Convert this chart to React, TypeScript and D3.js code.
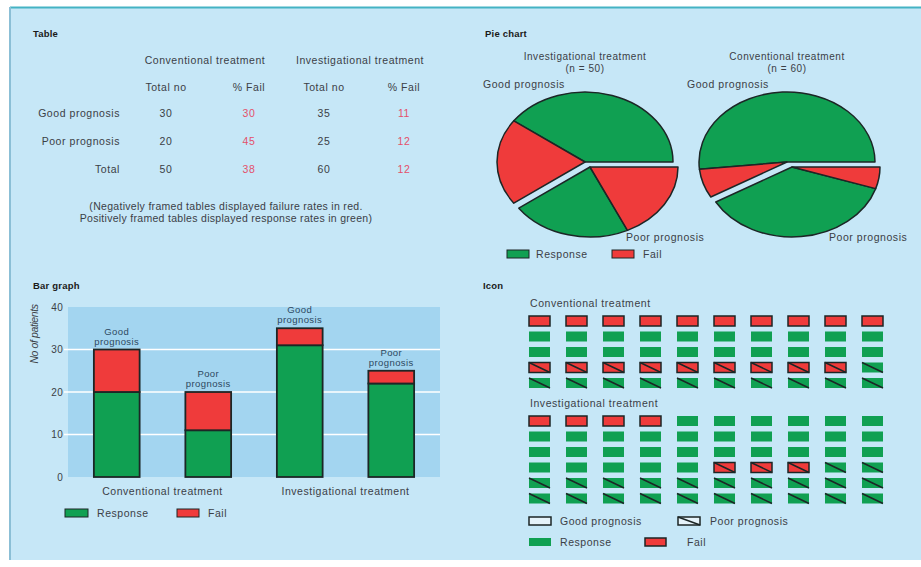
import * as d3 from 'd3'

// table
const tableHeads = ['Conventional treatment', 'Investigational treatment']
const tableSubHeads = ['Total no', '% Fail', 'Total no', '% Fail']
const tableRows = ['Good prognosis', 'Poor prognosis', 'Total']
const convTotal = [30, 20, 50]
const convFail = [30, 45, 38]
const invTotal = [35, 25, 60]
const invFail = [11, 12, 12]

// bar graph
const barKeys = ['conv-good', 'conv-poor', 'inv-good', 'inv-poor']
const barLabels = [['Good', 'prognosis'], ['Poor', 'prognosis'], ['Good', 'prognosis'], ['Poor', 'prognosis']]
const barResponse = [20, 11, 31, 22]
const barFail = [10, 9, 4, 3]
const barGroups = ['Conventional treatment', 'Investigational treatment']
const barTicks = [0, 10, 20, 30, 40]

// pie chart (good resp, good fail, poor resp, poor fail)
const pieTitles = ['Investigational treatment', 'Conventional treatment']
const pieN = [50, 60]
const pieValues = [[20, 10, 11, 9], [31, 4, 22, 3]]

// icons (good fail, good resp, poor fail, poor resp)
const iconTitles = ['Conventional treatment', 'Investigational treatment']
const iconCounts = [[10, 20, 9, 11], [4, 31, 3, 22]]

const GREEN = '#10a052'
const RED = '#ef3b3b'
const STROKE = '#1c2626'
const INK = '#3b4046'
const FAILINK = '#e4506a'
const FONT = '"Liberation Sans", Arial, Helvetica, sans-serif'
const LS = 0.55

function TableBlock() {
  const colX = [166, 249, 324, 404]
  const rowY = [117, 145, 173]
  const cols = [convTotal, convFail, invTotal, invFail]
  return (
    <g fontSize={10.5} fill={INK} letterSpacing={LS}>
      <text x={33} y={37} fontWeight="bold" fontSize={9.5} letterSpacing={0.2} fill="#1a1a1a">Table</text>
      {tableHeads.map((h, i) => (
        <text key={h} x={i === 0 ? 205 : 360} y={64} textAnchor="middle">{h}</text>
      ))}
      {tableSubHeads.map((h, i) => (
        <text key={i} x={colX[i]} y={91} textAnchor="middle">{h}</text>
      ))}
      {tableRows.map((r, j) => (
        <text key={r} x={120} y={rowY[j]} textAnchor="end">{r}</text>
      ))}
      {cols.map((c, i) => c.map((v, j) => (
        <text key={i + '-' + j} x={colX[i]} y={rowY[j]} textAnchor="middle" fill={i % 2 ? FAILINK : INK}>{v}</text>
      )))}
      <text x={226} y={210} textAnchor="middle" letterSpacing={0.3}>(Negatively framed tables displayed failure rates in red.</text>
      <text x={226} y={222} textAnchor="middle" letterSpacing={0.3}>Positively framed tables displayed response rates in green)</text>
    </g>
  )
}

function PieBlock() {
  const RX = 88
  const RY = 70
  const centers = [[585, 162], [787, 162]]
  const pie = d3.pie<number>().sort(null).value(d => d)
    .startAngle(Math.PI / 2).endAngle(Math.PI / 2 - 2 * Math.PI)
  const arc = d3.arc<d3.PieArcDatum<number>>().innerRadius(0).outerRadius(RY)
  return (
    <g fontSize={10.5} fill={INK} letterSpacing={LS}>
      <text x={485} y={37} fontWeight="bold" fontSize={9.5} letterSpacing={0.2} fill="#1a1a1a">Pie chart</text>
      {pieValues.map((vals, p) => {
        const [cx, cy] = centers[p]
        return (
          <g key={p}>
            <text x={cx} y={60} textAnchor="middle" fontSize={10}>{pieTitles[p]}</text>
            <text x={cx} y={71.5} textAnchor="middle" fontSize={10}>{`(n = ${pieN[p]})`}</text>
            {pie(vals).map((a, i) => {
              const off = i >= 2 ? [5, 5] : [0, 0]
              return (
                <path key={i} d={arc(a) || ''}
                  transform={`translate(${cx + off[0]},${cy + off[1]}) scale(${RX / RY},1)`}
                  fill={i % 2 ? RED : GREEN} stroke={STROKE} strokeWidth={1.5}
                  vectorEffect="non-scaling-stroke" strokeLinejoin="round" />
              )
            })}
          </g>
        )
      })}
      <text x={483} y={88}>Good prognosis</text>
      <text x={687} y={88}>Good prognosis</text>
      <text x={626} y={241}>Poor prognosis</text>
      <text x={829} y={241}>Poor prognosis</text>
      <rect x={507} y={250} width={22} height={8} fill={GREEN} stroke={STROKE} strokeWidth={1} />
      <text x={536} y={258}>Response</text>
      <rect x={612} y={250} width={22} height={8} fill={RED} stroke={STROKE} strokeWidth={1} />
      <text x={643} y={258}>Fail</text>
    </g>
  )
}

function BarBlock() {
  const y = d3.scaleLinear().domain([0, 40]).range([477, 307])
  const x = d3.scaleBand<string>().domain(barKeys).range([71, 437]).paddingInner(0.5).paddingOuter(0.25)
  const bw = x.bandwidth()
  return (
    <g fontSize={10.5} fill={INK} letterSpacing={LS}>
      <text x={33} y={289} fontWeight="bold" fontSize={9.5} letterSpacing={0.2} fill="#1a1a1a">Bar graph</text>
      <rect x={68} y={y(40)} width={372} height={y(0) - y(40)} fill="#a3d5f0" />
      {barTicks.map(t => (
        <g key={t}>
          {t > 0 && t < 40 && (
            <line x1={64} x2={440} y1={y(t)} y2={y(t)} stroke="#ffffff" strokeWidth={1.5} />
          )}
          <text x={63} y={y(t)} dy="0.35em" textAnchor="end" fontSize={10} letterSpacing={0.3}>{t}</text>
        </g>
      ))}
      <text transform="translate(38,334) rotate(-90)" textAnchor="middle" fontStyle="italic"
        fontSize={10.5} letterSpacing={-0.4} fill={INK}>No of patients</text>
      {barKeys.map((k, i) => {
        const x0 = x(k) as number
        const top = y(barResponse[i] + barFail[i])
        return (
          <g key={k}>
            <rect x={x0} y={y(barResponse[i])} width={bw} height={y(0) - y(barResponse[i])}
              fill={GREEN} stroke={STROKE} strokeWidth={1.8} />
            <rect x={x0} y={top} width={bw} height={y(barResponse[i]) - top}
              fill={RED} stroke={STROKE} strokeWidth={1.8} />
            <text x={x0 + bw / 2} y={top - 15} textAnchor="middle" fontSize={9.5} letterSpacing={0.4} fill="#2d4860">{barLabels[i][0]}</text>
            <text x={x0 + bw / 2} y={top - 5} textAnchor="middle" fontSize={9.5} letterSpacing={0.4} fill="#2d4860">{barLabels[i][1]}</text>
          </g>
        )
      })}
      {barGroups.map((g, i) => {
        const a = x(barKeys[i * 2]) as number
        const b = (x(barKeys[i * 2 + 1]) as number) + bw
        return <text key={g} x={(a + b) / 2} y={495} textAnchor="middle">{g}</text>
      })}
      <rect x={65} y={509} width={23} height={8} fill={GREEN} stroke={STROKE} strokeWidth={1} />
      <text x={97} y={517}>Response</text>
      <rect x={177} y={509} width={22} height={8} fill={RED} stroke={STROKE} strokeWidth={1} />
      <text x={208} y={517}>Fail</text>
    </g>
  )
}

function Icon({ x, y, w, h, fail, poor }: { x: number, y: number, w: number, h: number, fail: boolean, poor: boolean }) {
  return (
    <g>
      <rect x={x} y={y} width={w} height={h} fill={fail ? RED : GREEN}
        stroke={fail ? STROKE : 'none'} strokeWidth={1.5} />
      {poor && <line x1={x} y1={y} x2={x + w} y2={y + h} stroke={STROKE} strokeWidth={1.5} />}
    </g>
  )
}

function IconBlock() {
  const W = 21
  const H = 10
  const cx = d3.scaleLinear().domain([0, 9]).range([529, 862])
  const tops = [316, 416]
  const titleY = [307, 407]
  const types = [{ fail: true, poor: false }, { fail: false, poor: false }, { fail: true, poor: true }, { fail: false, poor: true }]
  return (
    <g fontSize={10.5} fill={INK} letterSpacing={LS}>
      <text x={483} y={289} fontWeight="bold" fontSize={9.5} letterSpacing={0.2} fill="#1a1a1a">Icon</text>
      {iconCounts.map((counts, s) => {
        const kinds: { fail: boolean, poor: boolean }[] = []
        counts.forEach((n, k) => { for (let i = 0; i < n; i++) kinds.push(types[k]) })
        const ry = d3.scaleLinear().domain([0, 1]).range([tops[s], tops[s] + 15.5])
        return (
          <g key={s}>
            <text x={530} y={titleY[s]}>{iconTitles[s]}</text>
            {kinds.map((k, i) => (
              <Icon key={i} x={cx(i % 10)} y={ry(Math.floor(i / 10))} w={W} h={H} fail={k.fail} poor={k.poor} />
            ))}
          </g>
        )
      })}
      <rect x={529} y={517} width={22} height={8} fill="#e6f3fa" stroke={STROKE} strokeWidth={1.5} />
      <text x={560} y={525}>Good prognosis</text>
      <rect x={678} y={517} width={22} height={8} fill="#e6f3fa" stroke={STROKE} strokeWidth={1.5} />
      <line x1={678} y1={517} x2={700} y2={525} stroke={STROKE} strokeWidth={1.5} />
      <text x={710} y={525}>Poor prognosis</text>
      <rect x={529} y={538} width={22} height={8} fill={GREEN} />
      <text x={560} y={546}>Response</text>
      <rect x={645} y={538} width={21} height={8} fill={RED} stroke={STROKE} strokeWidth={1.5} />
      <text x={687} y={546}>Fail</text>
    </g>
  )
}

export default function App() {
  return (
    <svg width={921} height={567} style={{ position: 'absolute', left: 0, top: 0, fontFamily: FONT }}>
      <rect x={0} y={0} width={921} height={567} fill="#ffffff" />
      <rect x={10} y={8} width={911} height={552} fill="#c6e7f7" />
      <line x1={10} x2={921} y1={7.5} y2={7.5} stroke="#45b3c4" strokeWidth={2} />
      <line x1={10} x2={10} y1={7} y2={560} stroke="#8bbfd6" strokeWidth={2} />
      <TableBlock />
      <PieBlock />
      <BarBlock />
      <IconBlock />
    </svg>
  )
}
